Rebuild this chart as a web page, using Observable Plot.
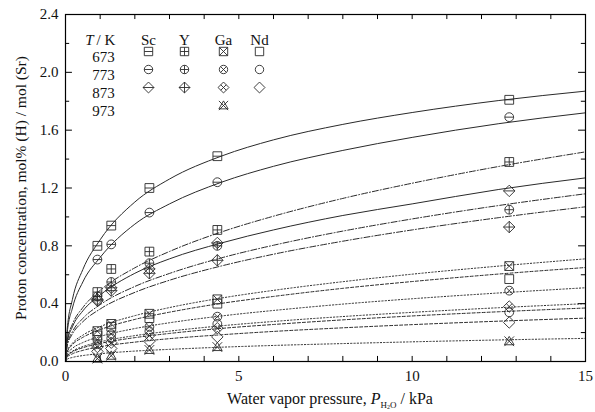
<!DOCTYPE html>
<html><head><meta charset="utf-8">
<script src="https://cdn.jsdelivr.net/npm/d3@7"></script>
<script src="https://cdn.jsdelivr.net/npm/@observablehq/plot@0.6"></script>
<style>body{margin:0;background:#fff}</style>
</head><body><div id="chart"></div>
<script>
// measured water vapour pressures (kPa)
const pressures = [0.92, 1.32, 2.42, 4.38, 12.8];
// proton concentration, mol% (H) / mol (Sr)
const sc673 = [0.80, 0.94, 1.20, 1.42, 1.81];
const sc773 = [0.705, 0.81, 1.03, 1.24, 1.69];
const sc873 = [0.43, 0.51, 0.64, 0.82, 1.18];
const y673  = [0.48, 0.64, 0.76, 0.91, 1.38];
const y773  = [0.45, 0.55, 0.68, 0.80, 1.05];
const y873  = [0.42, 0.49, 0.61, 0.70, 0.93];
const ga673 = [0.21, 0.26, 0.33, 0.43, 0.66];
const ga773 = [0.15, 0.19, 0.24, 0.31, 0.49];
const ga873 = [0.10, 0.13, 0.18, 0.23, 0.38];
const ga973 = [0.02, 0.04, 0.08, 0.10, 0.14];
const nd673 = [0.18, 0.24, 0.30, 0.40, 0.57];
const nd773 = [0.12, 0.16, 0.21, 0.26, 0.34];
const nd873 = [0.07, 0.09, 0.14, 0.17, 0.27];

// fitted curves at these pressures
const fitP = [0, 0.05, 0.2, 0.5, 1, 2, 3, 4.5, 6, 8, 10, 12.5, 15];
const sc673Fit = [0, 0.224, 0.43, 0.636, 0.842, 1.103, 1.262, 1.421, 1.533, 1.64, 1.722, 1.805, 1.87];
const sc773Fit = [0, 0.20, 0.37, 0.55, 0.72, 0.95, 1.09, 1.24, 1.35, 1.46, 1.55, 1.645, 1.72];
const sc873Fit = [0, 0.135, 0.24, 0.35, 0.46, 0.61, 0.71, 0.82, 0.91, 1.01, 1.09, 1.19, 1.27];
const y673Fit  = [0, 0.148, 0.258, 0.373, 0.492, 0.648, 0.761, 0.896, 1.005, 1.128, 1.233, 1.349, 1.45];
const y773Fit  = [0, 0.118, 0.206, 0.298, 0.393, 0.519, 0.609, 0.717, 0.804, 0.902, 0.986, 1.079, 1.16];
const y873Fit  = [0, 0.109, 0.19, 0.275, 0.363, 0.478, 0.562, 0.661, 0.742, 0.832, 0.91, 0.995, 1.07];
const ga673Fit = [0, 0.072, 0.126, 0.182, 0.241, 0.317, 0.373, 0.439, 0.492, 0.552, 0.604, 0.66, 0.71];
const ga773Fit = [0, 0.052, 0.091, 0.131, 0.173, 0.228, 0.268, 0.315, 0.353, 0.397, 0.434, 0.474, 0.51];
const ga873Fit = [0, 0.041, 0.071, 0.103, 0.136, 0.179, 0.21, 0.247, 0.277, 0.311, 0.34, 0.372, 0.40];
const ga973Fit = [0, 0.016, 0.028, 0.041, 0.054, 0.072, 0.084, 0.099, 0.111, 0.124, 0.136, 0.149, 0.16];
const nd673Fit = [0, 0.066, 0.116, 0.167, 0.22, 0.291, 0.341, 0.402, 0.45, 0.506, 0.553, 0.605, 0.65];
const nd773Fit = [0, 0.038, 0.066, 0.095, 0.125, 0.165, 0.194, 0.229, 0.256, 0.288, 0.315, 0.344, 0.37];
const nd873Fit = [0, 0.031, 0.053, 0.077, 0.102, 0.134, 0.158, 0.185, 0.208, 0.233, 0.255, 0.279, 0.30];

const dopants = ["Sc", "Y", "Ga", "Nd"];
const temps = ["673", "773", "873", "973"];
const xTickLabels = [0, 5, 10, 15];
const yTickLabels = [0, 0.4, 0.8, 1.2, 1.6, 2.0, 2.4];
const xMinor = d3.range(0, 16, 1);
const yMinor = d3.range(0, 2.41, 0.2);

// custom symbols
function sym(shape, inner) {
  return {draw(ctx, size) {
    const r = Math.sqrt(size / Math.PI);
    let e = r, k = r;
    if (shape === "square") { ctx.rect(-r, -r, 2 * r, 2 * r); k = r; }
    else if (shape === "circle") { ctx.moveTo(r, 0); ctx.arc(0, 0, r, 0, 2 * Math.PI); k = r * 0.707; }
    else if (shape === "diamond") { e = r * 1.3; ctx.moveTo(0, -e); ctx.lineTo(e, 0); ctx.lineTo(0, e); ctx.lineTo(-e, 0); ctx.closePath(); k = e * 0.5; }
    else if (shape === "triangle") { ctx.moveTo(0, -r * 1.1); ctx.lineTo(r * 1.1, r * 0.8); ctx.lineTo(-r * 1.1, r * 0.8); ctx.closePath(); k = r * 1.1; }
    if (inner.includes("h")) { ctx.moveTo(-e, 0); ctx.lineTo(e, 0); }
    if (inner.includes("v")) { ctx.moveTo(0, -e); ctx.lineTo(0, e); }
    if (inner.includes("x")) { ctx.moveTo(-k, -k); ctx.lineTo(k, k); ctx.moveTo(-k, k); ctx.lineTo(k, -k); }
  }};
}

const dash = {Sc: null, Y: "6,2,1,2", Ga: "1.3,2", Nd: "3,2"};
const series = [
  {d: "Sc", t: "673", v: sc673, f: sc673Fit, s: sym("square", "h")},
  {d: "Sc", t: "773", v: sc773, f: sc773Fit, s: sym("circle", "h")},
  {d: "Sc", t: "873", v: sc873, f: sc873Fit, s: sym("diamond", "h")},
  {d: "Y", t: "673", v: y673, f: y673Fit, s: sym("square", "hv")},
  {d: "Y", t: "773", v: y773, f: y773Fit, s: sym("circle", "hv")},
  {d: "Y", t: "873", v: y873, f: y873Fit, s: sym("diamond", "hv")},
  {d: "Ga", t: "673", v: ga673, f: ga673Fit, s: sym("square", "x")},
  {d: "Ga", t: "773", v: ga773, f: ga773Fit, s: sym("circle", "x")},
  {d: "Ga", t: "873", v: ga873, f: ga873Fit, s: sym("diamond", "x")},
  {d: "Ga", t: "973", v: ga973, f: ga973Fit, s: sym("triangle", "x")},
  {d: "Nd", t: "673", v: nd673, f: nd673Fit, s: sym("square", "")},
  {d: "Nd", t: "773", v: nd773, f: nd773Fit, s: sym("circle", "")},
  {d: "Nd", t: "873", v: nd873, f: nd873Fit, s: sym("diamond", "")}
];

const ink = "#2a2a2a";
const marks = [];
for (const s of series) {
  marks.push(Plot.line(fitP.map((p, i) => ({p, c: s.f[i]})), {x: "p", y: "c", curve: "monotone-x", stroke: ink, strokeWidth: 1, strokeDasharray: dash[s.d]}));
}
for (const s of series) {
  marks.push(Plot.dot(pressures.map((p, i) => ({p, c: s.v[i]})), {x: "p", y: "c", symbol: s.s, r: 4.4, stroke: ink, strokeWidth: 0.9, fill: "none"}));
}
// legend
const colDx = {Sc: 83, Y: 119, Ga: 158, Nd: 194};
const rowDy = {"673": 37, "773": 55, "873": 73, "973": 91};
marks.push(Plot.text(["T"], {text: d => d, frameAnchor: "top-left", dx: 28, dy: 20, textAnchor: "end", fontStyle: "italic", fontSize: 15, fill: "#111"}));
marks.push(Plot.text(["/ K"], {text: d => d, frameAnchor: "top-left", dx: 31, dy: 20, textAnchor: "start", fontSize: 15, fill: "#111"}));
for (const dp of dopants) marks.push(Plot.text([dp], {text: d => d, frameAnchor: "top-left", dx: colDx[dp], dy: 20, textAnchor: "middle", fontSize: 15, fill: "#111"}));
for (const t of temps) marks.push(Plot.text([t], {text: d => d, frameAnchor: "top-left", dx: 38, dy: rowDy[t], textAnchor: "middle", fontSize: 15, fill: "#111"}));
for (const s of series) marks.push(Plot.dot([s], {frameAnchor: "top-left", dx: colDx[s.d], dy: rowDy[s.t], symbol: s.s, r: 4.2, stroke: ink, strokeWidth: 0.9, fill: "none"}));

// ticks (inward) on all sides
marks.push(Plot.ruleX(xMinor, {y1: 0, y2: 0.035, stroke: "#000"}));
marks.push(Plot.ruleX(xMinor, {y1: 2.4, y2: 2.365, stroke: "#000"}));
marks.push(Plot.ruleY(yMinor, {x1: 0, x2: d => (Math.round(d * 10) % 4 === 0 ? 0.2 : 0.12), stroke: "#000"}));
marks.push(Plot.ruleY(yMinor, {x1: 15, x2: d => (Math.round(d * 10) % 4 === 0 ? 14.8 : 14.88), stroke: "#000"}));
marks.push(Plot.frame({stroke: "#000", strokeWidth: 1.2}));
marks.push(Plot.axisX({ticks: xTickLabels, tickSize: 0, tickPadding: 9, label: null, fontSize: 15}));
marks.push(Plot.axisY({ticks: yTickLabels, tickSize: 0, tickPadding: 7, tickFormat: d3.format(".1f"), label: null, fontSize: 15}));
marks.push(Plot.text(["Proton concentration, mol% (H) / mol (Sr)"], {text: d => d, frameAnchor: "left", dx: -44, rotate: -90, textAnchor: "middle", fontSize: 15.5, fill: "#111"}));

const chart = Plot.plot({
  width: 595, height: 412,
  marginLeft: 65, marginRight: 10, marginTop: 14, marginBottom: 51,
  x: {domain: [0, 15]},
  y: {domain: [0, 2.4]},
  style: {fontFamily: "'Liberation Serif', 'Times New Roman', serif", fontSize: "15px", color: "#111", background: "#fff"},
  marks
});
// x-axis title with subscript
const svg = d3.select(chart);
const t = svg.append("text").attr("x", 330).attr("y", 404).attr("text-anchor", "middle")
  .attr("font-size", 16).attr("fill", "#111");
t.append("tspan").text("Water vapor pressure, ");
t.append("tspan").attr("font-style", "italic").text("P");
t.append("tspan").attr("font-size", 9).attr("dy", 4).text("H");
t.append("tspan").attr("font-size", 6).attr("dy", 1).text("2");
t.append("tspan").attr("font-size", 9).attr("dy", -1).text("O");
t.append("tspan").attr("dy", -4).text(" / kPa");
document.getElementById("chart").append(chart);
</script></body></html>
